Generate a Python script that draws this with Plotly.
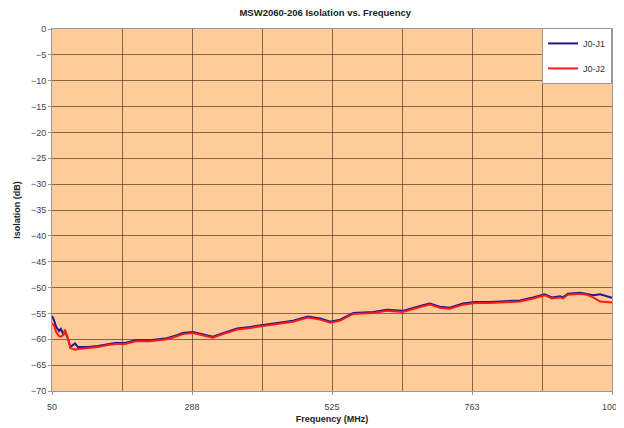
import plotly.graph_objects as go

title_text = "MSW2060-206 Isolation vs. Frequency"
x_title = "Frequency (MHz)"
y_title = "Isolation (dB)"

freq_mhz = [50, 53, 57, 62, 65, 69, 72, 77, 81, 89, 94, 111, 128, 145, 157, 174, 192, 216,
            245, 262, 272, 289, 306, 323, 340, 364, 386, 403, 437, 459, 484, 505, 522, 539,
            561, 595, 618, 645, 679, 691, 708, 725, 747, 768, 793, 822, 844, 866, 886, 898,
            912, 917, 925, 946, 958, 968, 980, 1000]

j0_j1 = [-55.5, -56.2, -57.6, -58.4, -58.0, -59.0, -58.6, -59.8, -61.5, -60.8, -61.5, -61.5,
         -61.3, -60.9, -60.7, -60.7, -60.2, -60.2, -59.8, -59.2, -58.8, -58.6, -59.0, -59.5,
         -58.8, -57.9, -57.6, -57.3, -56.8, -56.4, -55.6, -56.0, -56.6, -56.2, -54.9, -54.7,
         -54.3, -54.5, -53.4, -53.1, -53.7, -53.9, -53.1, -52.8, -52.8, -52.6, -52.5, -51.9,
         -51.3, -51.9, -51.7, -51.9, -51.2, -51.0, -51.2, -51.5, -51.3, -52.0]

j0_j2 = [-57.0, -57.2, -58.6, -59.4, -59.5, -59.2, -58.1, -59.8, -61.7, -62.0, -61.9, -61.7,
         -61.5, -61.1, -60.9, -60.9, -60.4, -60.4, -60.0, -59.4, -59.0, -58.8, -59.2, -59.7,
         -59.0, -58.1, -57.8, -57.5, -57.0, -56.6, -55.8, -56.2, -56.8, -56.4, -55.1, -54.9,
         -54.5, -54.7, -53.6, -53.3, -53.9, -54.1, -53.3, -53.0, -53.0, -52.8, -52.7, -52.1,
         -51.5, -52.1, -51.9, -52.1, -51.4, -51.2, -51.4, -51.9, -52.7, -52.9]

x_tickvals = [50, 287.5, 525, 762.5, 1000]
x_ticktext = ["50", "288", "525", "763", "1000"]
x_minor_gridvals = [168.75, 406.25, 643.75, 881.25]
y_tickvals = [0, -5, -10, -15, -20, -25, -30, -35, -40, -45, -50, -55, -60, -65, -70]

grid_col = "rgba(50,35,20,0.6)"

fig = go.Figure()
fig.add_trace(go.Scatter(x=freq_mhz, y=j0_j1, mode="lines", name="J0-J1",
                         line=dict(color="#1a1a8c", width=2), legendgroup="a"))
fig.add_trace(go.Scatter(x=freq_mhz, y=j0_j2, mode="lines", name="J0-J2",
                         line=dict(color="#ff1a1a", width=2), legendgroup="b"))

font_family = "Liberation Sans, Arial, sans-serif"
fig.update_layout(
    width=616, height=420,
    margin=dict(l=44, r=12, t=21, b=37),
    paper_bgcolor="white",
    plot_bgcolor="#FFCC99",
    font=dict(family=font_family, size=9, color="#444444"),
    title=dict(text="<b>" + title_text + "</b>", x=0.515, xanchor="center", y=0.988, yanchor="middle",
               font=dict(size=9.5, color="#222222")),
    showlegend=True,
    legend=dict(x=1, xanchor="right", y=1.003, yanchor="top", bgcolor="white",
                bordercolor="#999999", borderwidth=1, tracegroupgap=6, itemwidth=30,
                font=dict(size=9, color="#333333")),
    xaxis=dict(range=[50, 1000], tickvals=x_tickvals, ticktext=x_ticktext,
               showgrid=True, gridcolor=grid_col, gridwidth=1,
               minor=dict(tickvals=x_minor_gridvals, showgrid=True, gridcolor=grid_col,
                          gridwidth=1, ticks=""),
               showline=True, linecolor="#999999", mirror=True,
               ticks="outside", ticklen=3, tickcolor="#999999", ticklabelstandoff=4,
               zeroline=False, automargin=False,
               title=dict(text="<b>" + x_title + "</b>", font=dict(size=9, color="#222222"), standoff=4)),
    yaxis=dict(range=[-70, 0], tickvals=y_tickvals,
               showgrid=True, gridcolor=grid_col, gridwidth=1,
               showline=True, linecolor="#999999", mirror=True,
               ticks="outside", ticklen=3, tickcolor="#999999",
               zeroline=False, automargin=False,
               title=dict(text="<b>" + y_title + "</b>", font=dict(size=9, color="#222222"), standoff=8)),
)

fig.write_html("out.html")
